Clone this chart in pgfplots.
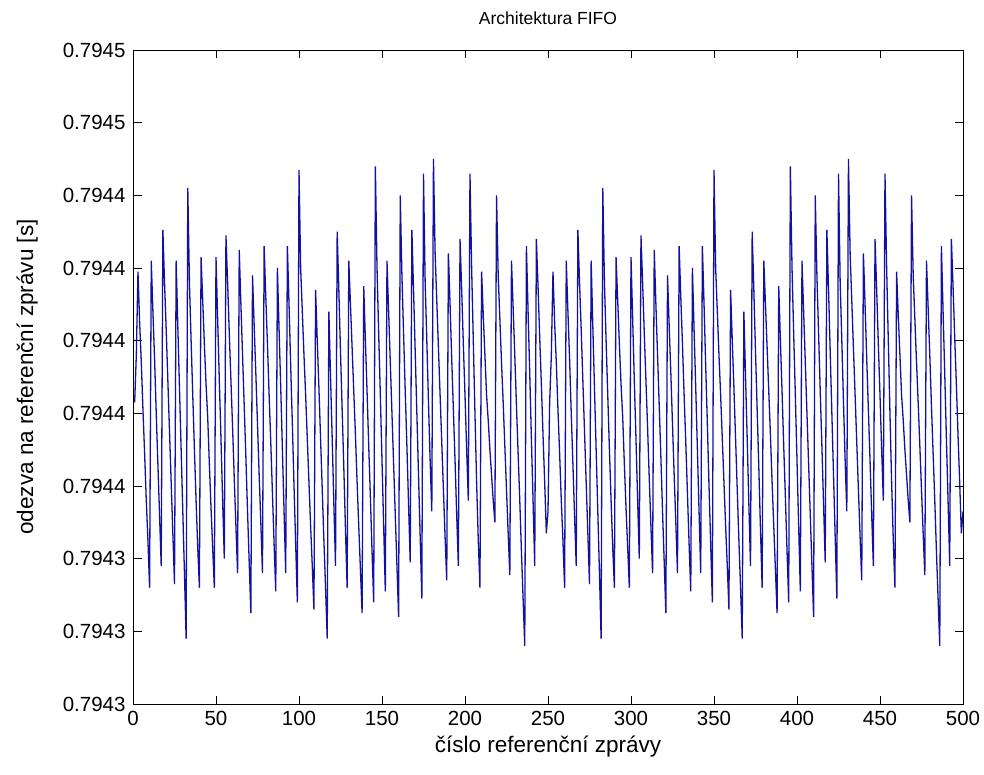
\documentclass[border=0pt]{standalone}
\usepackage{fontspec}
\setmainfont{Liberation Sans}
\usepackage{pgfplots}
\pgfplotsset{compat=1.18}
\usepackage{pgfplotstable}

% response time [s] of reference messages 1..500
\pgfplotstableread[header=false,row sep=\\]{
0.794383\\ 0.794396\\ 0.794419\\ 0.794405\\ 0.794394\\ 0.794381\\ 0.794369\\ 0.794356\\ 0.794345\\ 0.794332\\
0.794422\\ 0.794408\\ 0.794395\\ 0.794380\\ 0.794366\\ 0.794352\\ 0.794338\\ 0.7944305\\ 0.794416\\ 0.794403\\
0.794389\\ 0.794375\\ 0.794361\\ 0.794347\\ 0.794333\\ 0.794422\\ 0.794404\\ 0.794387\\ 0.794370\\ 0.794353\\
0.794336\\ 0.794318\\ 0.794442\\ 0.794416\\ 0.794400\\ 0.794385\\ 0.794370\\ 0.794356\\ 0.794343\\ 0.794332\\
0.794423\\ 0.794411\\ 0.794399\\ 0.794388\\ 0.794379\\ 0.794366\\ 0.794354\\ 0.794343\\ 0.794332\\ 0.794423\\
0.794406\\ 0.794389\\ 0.794373\\ 0.794356\\ 0.794340\\ 0.794429\\ 0.794416\\ 0.794402\\ 0.794389\\ 0.794376\\
0.794362\\ 0.794349\\ 0.794336\\ 0.794425\\ 0.794410\\ 0.794396\\ 0.794382\\ 0.794368\\ 0.794353\\ 0.794339\\
0.794325\\ 0.794418\\ 0.794404\\ 0.794391\\ 0.794377\\ 0.794363\\ 0.794350\\ 0.794336\\ 0.794426\\ 0.794412\\
0.794399\\ 0.794385\\ 0.794372\\ 0.794358\\ 0.794344\\ 0.794331\\ 0.794420\\ 0.794403\\ 0.794387\\ 0.794370\\
0.794353\\ 0.794336\\ 0.794426\\ 0.794410\\ 0.794393\\ 0.794377\\ 0.794360\\ 0.794344\\ 0.794328\\ 0.794447\\
0.794420\\ 0.794408\\ 0.794396\\ 0.794385\\ 0.794373\\ 0.794361\\ 0.794349\\ 0.794338\\ 0.794326\\ 0.794414\\
0.794400\\ 0.794387\\ 0.794373\\ 0.794359\\ 0.794345\\ 0.794332\\ 0.794318\\ 0.794408\\ 0.794390\\ 0.794373\\
0.794355\\ 0.794338\\ 0.794430\\ 0.794414\\ 0.794397\\ 0.794381\\ 0.794365\\ 0.794348\\ 0.794332\\ 0.794422\\
0.794410\\ 0.794398\\ 0.794386\\ 0.794374\\ 0.794361\\ 0.794349\\ 0.794337\\ 0.794325\\ 0.794415\\ 0.794400\\
0.794386\\ 0.794371\\ 0.794357\\ 0.794342\\ 0.794328\\ 0.794448\\ 0.794420\\ 0.794402\\ 0.794385\\ 0.794367\\
0.794349\\ 0.794331\\ 0.794422\\ 0.794408\\ 0.794394\\ 0.794380\\ 0.794366\\ 0.794352\\ 0.794338\\ 0.794324\\
0.794440\\ 0.794418\\ 0.794402\\ 0.794386\\ 0.794371\\ 0.794355\\ 0.794339\\ 0.7944305\\ 0.794414\\ 0.794397\\
0.794380\\ 0.794363\\ 0.794346\\ 0.794329\\ 0.794446\\ 0.794416\\ 0.794400\\ 0.794383\\ 0.794367\\ 0.794353\\
0.794450\\ 0.794424\\ 0.794411\\ 0.794398\\ 0.794385\\ 0.794372\\ 0.794359\\ 0.794346\\ 0.794334\\ 0.794424\\
0.794410\\ 0.794395\\ 0.794381\\ 0.794367\\ 0.794352\\ 0.794338\\ 0.794428\\ 0.794414\\ 0.794399\\ 0.794385\\
0.794370\\ 0.794356\\ 0.794446\\ 0.794420\\ 0.794400\\ 0.794380\\ 0.794361\\ 0.794345\\ 0.794332\\ 0.794419\\
0.794407\\ 0.794396\\ 0.794385\\ 0.794378\\ 0.794370\\ 0.794363\\ 0.794356\\ 0.794350\\ 0.794440\\ 0.794418\\
0.794406\\ 0.794394\\ 0.794383\\ 0.794371\\ 0.794359\\ 0.794347\\ 0.7943355\\ 0.794422\\ 0.794409\\ 0.794396\\
0.794382\\ 0.794369\\ 0.794356\\ 0.794342\\ 0.794329\\ 0.794316\\ 0.794426\\ 0.794408\\ 0.794391\\ 0.794373\\
0.794356\\ 0.794338\\ 0.794428\\ 0.794415\\ 0.794401\\ 0.794388\\ 0.794374\\ 0.794361\\ 0.794347\\ 0.794353\\
0.794383\\ 0.794396\\ 0.794419\\ 0.794405\\ 0.794394\\ 0.794381\\ 0.794369\\ 0.794356\\ 0.794345\\ 0.794332\\
0.794422\\ 0.794408\\ 0.794395\\ 0.794380\\ 0.794366\\ 0.794352\\ 0.794338\\ 0.7944305\\ 0.794416\\ 0.794403\\
0.794389\\ 0.794375\\ 0.794361\\ 0.794347\\ 0.794333\\ 0.794422\\ 0.794404\\ 0.794387\\ 0.794370\\ 0.794353\\
0.794336\\ 0.794318\\ 0.794442\\ 0.794416\\ 0.794400\\ 0.794385\\ 0.794370\\ 0.794356\\ 0.794343\\ 0.794332\\
0.794423\\ 0.794411\\ 0.794399\\ 0.794388\\ 0.794379\\ 0.794366\\ 0.794354\\ 0.794343\\ 0.794332\\ 0.794423\\
0.794406\\ 0.794389\\ 0.794373\\ 0.794356\\ 0.794340\\ 0.794429\\ 0.794416\\ 0.794402\\ 0.794389\\ 0.794376\\
0.794362\\ 0.794349\\ 0.794336\\ 0.794425\\ 0.794410\\ 0.794396\\ 0.794382\\ 0.794368\\ 0.794353\\ 0.794339\\
0.794325\\ 0.794418\\ 0.794404\\ 0.794391\\ 0.794377\\ 0.794363\\ 0.794350\\ 0.794336\\ 0.794426\\ 0.794412\\
0.794399\\ 0.794385\\ 0.794372\\ 0.794358\\ 0.794344\\ 0.794331\\ 0.794420\\ 0.794403\\ 0.794387\\ 0.794370\\
0.794353\\ 0.794336\\ 0.794426\\ 0.794410\\ 0.794393\\ 0.794377\\ 0.794360\\ 0.794344\\ 0.794328\\ 0.794447\\
0.794420\\ 0.794408\\ 0.794396\\ 0.794385\\ 0.794373\\ 0.794361\\ 0.794349\\ 0.794338\\ 0.794326\\ 0.794414\\
0.794400\\ 0.794387\\ 0.794373\\ 0.794359\\ 0.794345\\ 0.794332\\ 0.794318\\ 0.794408\\ 0.794390\\ 0.794373\\
0.794355\\ 0.794338\\ 0.794430\\ 0.794414\\ 0.794397\\ 0.794381\\ 0.794365\\ 0.794348\\ 0.794332\\ 0.794422\\
0.794410\\ 0.794398\\ 0.794386\\ 0.794374\\ 0.794361\\ 0.794349\\ 0.794337\\ 0.794325\\ 0.794415\\ 0.794400\\
0.794386\\ 0.794371\\ 0.794357\\ 0.794342\\ 0.794328\\ 0.794448\\ 0.794420\\ 0.794402\\ 0.794385\\ 0.794367\\
0.794349\\ 0.794331\\ 0.794422\\ 0.794408\\ 0.794394\\ 0.794380\\ 0.794366\\ 0.794352\\ 0.794338\\ 0.794324\\
0.794440\\ 0.794418\\ 0.794402\\ 0.794386\\ 0.794371\\ 0.794355\\ 0.794339\\ 0.7944305\\ 0.794414\\ 0.794397\\
0.794380\\ 0.794363\\ 0.794346\\ 0.794329\\ 0.794446\\ 0.794416\\ 0.794400\\ 0.794383\\ 0.794367\\ 0.794353\\
0.794450\\ 0.794424\\ 0.794411\\ 0.794398\\ 0.794385\\ 0.794372\\ 0.794359\\ 0.794346\\ 0.794334\\ 0.794424\\
0.794410\\ 0.794395\\ 0.794381\\ 0.794367\\ 0.794352\\ 0.794338\\ 0.794428\\ 0.794414\\ 0.794399\\ 0.794385\\
0.794370\\ 0.794356\\ 0.794446\\ 0.794420\\ 0.794400\\ 0.794380\\ 0.794361\\ 0.794345\\ 0.794332\\ 0.794419\\
0.794407\\ 0.794396\\ 0.794385\\ 0.794378\\ 0.794370\\ 0.794363\\ 0.794356\\ 0.794350\\ 0.794440\\ 0.794418\\
0.794406\\ 0.794394\\ 0.794383\\ 0.794371\\ 0.794359\\ 0.794347\\ 0.7943355\\ 0.794422\\ 0.794409\\ 0.794396\\
0.794382\\ 0.794369\\ 0.794356\\ 0.794342\\ 0.794329\\ 0.794316\\ 0.794426\\ 0.794408\\ 0.794391\\ 0.794373\\
0.794356\\ 0.794338\\ 0.794428\\ 0.794415\\ 0.794401\\ 0.794388\\ 0.794374\\ 0.794361\\ 0.794347\\ 0.794353\\
}\resptable

\definecolor{mline}{rgb}{0.07,0.07,0.62}

\begin{document}
\begin{tikzpicture}
\begin{axis}[
  width=830pt, height=654pt, scale only axis,
  xmin=0, xmax=500, ymin=0.7943, ymax=0.79448,
  xtick={0,50,...,500},
  ytick={0.7943,0.79432,0.79434,0.79436,0.79438,0.7944,0.79442,0.79444,0.79446,0.79448},
  yticklabels={0.7943,0.7943,0.7943,0.7944,0.7944,0.7944,0.7944,0.7944,0.7945,0.7945},
  scaled ticks=false,
  tick align=inside,
  major tick length=8.5pt,
  tick style={black, line width=0.8pt},
  axis line style={black, line width=0.8pt},
  /pgf/number format/assume math mode=true,
  tick label style={font=\fontsize{20.5}{24}\selectfont},
  xticklabel style={yshift=-4pt},
  yticklabel style={xshift=-4pt},
  label style={font=\fontsize{22.5}{26}\selectfont},
  xlabel style={yshift=-3pt},
  ylabel style={yshift=18pt},
  title style={font=\fontsize{17.5}{21}\selectfont, yshift=16pt},
  title={Architektura FIFO},
  xlabel={číslo referenční zprávy},
  ylabel={odezva na referenční zprávu [s]},
]
\addplot[mline, line width=1.3pt, mark=none] table[x expr=\coordindex+1, y index=0] {\resptable};
\end{axis}
\pgfresetboundingbox
\path[use as bounding box] ([shift={(-133pt,-70pt)}]current axis.south west) rectangle ([shift={(21pt,50pt)}]current axis.north east);
\end{tikzpicture}
\end{document}
